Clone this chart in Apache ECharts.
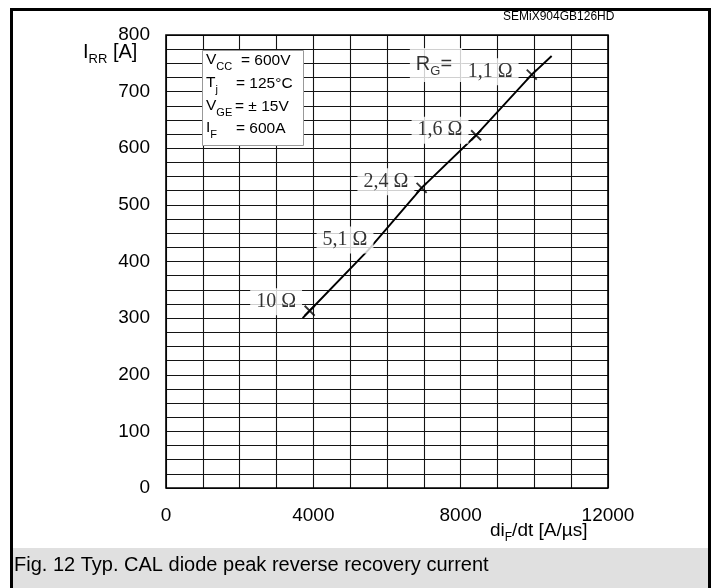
<!DOCTYPE html>
<html>
<head>
<meta charset="utf-8">
<script src="https://cdn.jsdelivr.net/npm/echarts@6/dist/echarts.min.js"></script>
<style>
html,body{margin:0;padding:0;background:#fff;}
#chart{width:717px;height:588px;}
</style>
</head>
<body>
<div id="chart"></div>
<script>
// ---- data ----
const xTicks = [0, 4000, 8000, 12000];
const yTicks = [0, 100, 200, 300, 400, 500, 600, 700, 800];
const curveX = [3710, 3900, 5490, 6940, 8420, 9930, 10470];
const curveY = [300, 313, 420, 530, 623, 730, 763];
const markerX = [3900, 6940, 8420, 9930];
const markerY = [313, 530, 623, 730];
const rgNames = ['10 Ω', '5,1 Ω', '2,4 Ω', '1,6 Ω', '1,1 Ω'];
const rgLabelX = [2990, 4860, 5970, 7440, 8800];
const rgLabelY = [329, 438, 541, 632, 735];
const rgTitle = 'R{s|G}=';
const rgTitleX = 7330;
const rgTitleY = 747;
const conditionsLeft = ['V{s|CC}', 'T{s|j}', 'V{s|GE}', 'I{s|F}'];
const conditionsRight = ['= 600V', '= 125°C', '= ± 15V', '= 600A'];
const caption = 'Fig. 12 Typ. CAL diode peak reverse recovery current';
const partNo = 'SEMiX904GB126HD';

const SANS = '"Liberation Sans", Arial, sans-serif';
const SERIF = '"Liberation Serif", "Times New Roman", serif';

const chart = echarts.init(document.getElementById('chart'), null, {renderer: 'canvas'});

const subRich = {
  n: {fontFamily: SANS, fontSize: 15.5, color: '#000', lineHeight: 19, verticalAlign: 'middle'},
  s: {fontFamily: SANS, fontSize: 11, color: '#000', lineHeight: 19, verticalAlign: 'bottom', padding: [0, 0, -3, 0]}
};

const condGraphics = [];
const condRightX = [241, 236, 235, 236];
const condY = [62, 85, 108, 130];
conditionsLeft.forEach((t, i) => {
  condGraphics.push({
    type: 'text', left: 206, top: condY[i] - 10, z: 101,
    style: {text: t.replace(/^([A-Z])/, '{n|$1}'), rich: subRich, fontFamily: SANS, fontSize: 15.5, fill: '#000'}
  });
  condGraphics.push({
    type: 'text', left: condRightX[i], top: condY[i] - 9, z: 101,
    style: {text: conditionsRight[i], fontFamily: SANS, fontSize: 15.5, fill: '#000'}
  });
});

const option = {
  animation: false,
  backgroundColor: '#fff',
  grid: {left: 166, top: 35, width: 442, height: 453, show: true, borderColor: '#000', borderWidth: 1.6, backgroundColor: 'transparent', z: 3},
  xAxis: {
    type: 'value', min: 0, max: 12000, interval: 1000,
    axisLine: {show: false}, axisTick: {show: false},
    splitLine: {show: true, lineStyle: {color: '#141414', width: 1.1}},
    axisLabel: {
      margin: 18, color: '#000', fontFamily: SANS, fontSize: 19,
      formatter: v => (xTicks.indexOf(v) >= 0 ? String(v) : '')
    }
  },
  yAxis: {
    type: 'value', min: 0, max: 800, interval: 25,
    axisLine: {show: false}, axisTick: {show: false},
    splitLine: {show: true, lineStyle: {color: '#141414', width: 1.1}},
    axisLabel: {
      margin: 16, color: '#000', fontFamily: SANS, fontSize: 19,
      formatter: v => (yTicks.indexOf(v) >= 0 ? String(v) : '')
    }
  },
  series: [
    {
      type: 'line', z: 5,
      data: curveX.map((x, i) => [x, curveY[i]]),
      symbol: 'none', smooth: false,
      lineStyle: {color: '#000', width: 1.9}
    },
    {
      type: 'scatter', z: 6,
      data: markerX.map((x, i) => [x, markerY[i]]),
      symbol: 'path://M0,0L10,10M10,0L0,10', symbolSize: 10,
      itemStyle: {color: 'none', borderColor: '#000', borderWidth: 1.9}
    },
    {
      type: 'scatter', z: 10,
      data: rgLabelX.map((x, i) => ({value: [x, rgLabelY[i]], name: rgNames[i]})),
      symbolSize: 0,
      label: {
        show: true, position: 'inside', formatter: p => p.name,
        fontFamily: SERIF, fontSize: 20, color: '#000',
        backgroundColor: '#fff', padding: [4, 6, 3, 6]
      }
    },
    {
      type: 'scatter', z: 9,
      data: [{value: [rgTitleX, rgTitleY], name: rgTitle}],
      symbolSize: 0,
      label: {
        show: true, position: 'inside', formatter: p => p.name,
        fontFamily: SANS, fontSize: 20, color: '#000',
        backgroundColor: '#fff', padding: [6, 10, 8, 6],
        rich: {s: {fontFamily: SANS, fontSize: 13, color: '#000', verticalAlign: 'bottom', padding: [0, 0, -4, 0]}}
      }
    }
  ],
  graphic: [
    {type: 'rect', z: 0, shape: {x: 13, y: 548, width: 695, height: 42}, style: {fill: '#e0e0e0'}},
    {type: 'rect', z: 100, shape: {x: 11.5, y: 9.5, width: 698, height: 590}, style: {fill: 'none', stroke: '#000', lineWidth: 3}},
    {type: 'text', z: 100, left: 14, top: 555, style: {text: caption, fontFamily: SANS, fontSize: 20, fill: '#000'}},
    {type: 'text', z: 100, left: 503, top: 11, style: {text: partNo, fontFamily: SANS, fontSize: 12, fill: '#000'}},
    {type: 'rect', z: 100, shape: {x: 202.5, y: 50.5, width: 101, height: 95}, style: {fill: '#fff', stroke: '#999', lineWidth: 1}},
    ...condGraphics,
    {type: 'text', z: 100, left: 83, top: 42,
      style: {text: '{n|I}{s|RR}{n| [A]}', fontFamily: SANS, fontSize: 19, fill: '#000',
        rich: {n: {fontFamily: SANS, fontSize: 20, color: '#000', lineHeight: 22, verticalAlign: 'middle'},
               s: {fontFamily: SANS, fontSize: 13, color: '#000', lineHeight: 22, verticalAlign: 'bottom', padding: [0, 0, -3, 0]}}}},
    {type: 'text', z: 100, left: 490, top: 521,
      style: {text: '{n|di}{s|F}{n|/dt [A/µs]}', fontFamily: SANS, fontSize: 19, fill: '#000',
        rich: {n: {fontFamily: SANS, fontSize: 19, color: '#000', lineHeight: 21, verticalAlign: 'middle'},
               s: {fontFamily: SANS, fontSize: 12, color: '#000', lineHeight: 21, verticalAlign: 'bottom', padding: [0, 0, -3, 0]}}}}
  ]
};
chart.setOption(option);
</script>
</body>
</html>
